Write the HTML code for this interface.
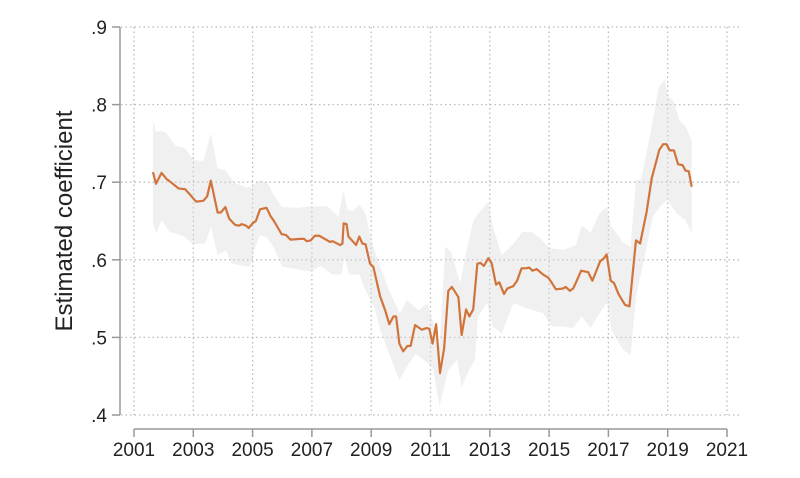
<!DOCTYPE html>
<html><head><meta charset="utf-8"><style>
body{margin:0;background:#fff;}
svg text{font-family:"Liberation Sans",sans-serif;fill:#222;}
</style></head><body>
<svg id="chart" width="800" height="473" viewBox="0 0 800 473" xmlns="http://www.w3.org/2000/svg">
<g id="grid"></g>
<g id="band"></g>
<g id="line"></g>
<g id="axes"></g>
<text transform="translate(72,221) rotate(-90)" text-anchor="middle" font-size="24">Estimated coefficient</text>
</svg>
<script>
const xTicks = [2001,2003,2005,2007,2009,2011,2013,2015,2017,2019,2021];
const yTicks = [0.4,0.5,0.6,0.7,0.8,0.9];
const yTickLabels = [".4",".5",".6",".7",".8",".9"];
const lineYears = [2001.64,2001.74,2001.93,2002.1,2002.21,2002.5,2002.72,2002.89,2003.09,2003.34,2003.47,2003.59,2003.82,2003.93,2004.08,2004.21,2004.41,2004.55,2004.63,2004.78,2004.87,2005.0,2005.11,2005.25,2005.47,2005.61,2005.72,2005.98,2006.12,2006.28,2006.6,2006.74,2006.82,2006.96,2007.1,2007.25,2007.61,2007.7,2007.95,2008.03,2008.07,2008.17,2008.23,2008.49,2008.6,2008.7,2008.81,2008.96,2009.07,2009.3,2009.47,2009.61,2009.75,2009.84,2009.95,2010.08,2010.22,2010.33,2010.48,2010.7,2010.87,2010.96,2011.07,2011.19,2011.32,2011.46,2011.6,2011.72,2011.94,2012.05,2012.2,2012.31,2012.44,2012.58,2012.69,2012.8,2012.95,2013.06,2013.21,2013.32,2013.48,2013.59,2013.79,2013.92,2014.07,2014.22,2014.33,2014.44,2014.58,2014.8,2014.97,2015.08,2015.23,2015.47,2015.56,2015.7,2015.81,2015.92,2016.08,2016.32,2016.46,2016.72,2016.85,2016.94,2017.08,2017.19,2017.34,2017.56,2017.71,2017.93,2018.07,2018.29,2018.46,2018.72,2018.85,2018.96,2019.07,2019.21,2019.35,2019.5,2019.6,2019.71,2019.81];
const lineValues = [.713,.698,.712,.704,.701,.692,.691,.684,.675,.676,.682,.702,.661,.661,.668,.653,.645,.644,.646,.644,.641,.647,.650,.665,.667,.656,.650,.633,.632,.626,.627,.627,.624,.625,.631,.631,.623,.624,.619,.621,.647,.646,.630,.619,.630,.621,.620,.595,.591,.553,.535,.517,.527,.527,.492,.482,.489,.489,.516,.510,.512,.511,.492,.517,.454,.486,.560,.565,.552,.503,.536,.527,.536,.595,.596,.592,.602,.596,.568,.571,.556,.563,.566,.573,.589,.589,.590,.586,.588,.581,.577,.571,.562,.563,.565,.560,.563,.572,.586,.584,.573,.598,.602,.607,.573,.570,.556,.542,.540,.625,.621,.662,.705,.742,.749,.749,.741,.741,.723,.722,.715,.714,.694];
const upperYears = [2001.64,2001.75,2001.93,2002.1,2002.4,2002.72,2003.0,2003.34,2003.59,2003.82,2004.08,2004.4,2004.8,2005.0,2005.25,2005.5,2005.7,2006.0,2006.5,2007.0,2007.5,2007.9,2008.07,2008.2,2008.4,2008.6,2008.8,2009.0,2009.3,2009.6,2009.97,2010.2,2010.6,2010.9,2011.1,2011.3,2011.5,2011.7,2012.0,2012.2,2012.45,2012.7,2012.95,2013.1,2013.4,2013.8,2014.1,2014.4,2014.7,2015.0,2015.5,2015.9,2016.1,2016.4,2016.7,2016.95,2017.1,2017.5,2017.75,2017.93,2018.1,2018.4,2018.7,2018.9,2019.0,2019.2,2019.4,2019.6,2019.81];
const upperValues = [.778,.765,.766,.763,.747,.744,.729,.727,.763,.718,.715,.699,.693,.695,.703,.700,.684,.668,.667,.669,.669,.656,.690,.664,.663,.671,.660,.626,.591,.561,.531,.548,.535,.544,.518,.488,.617,.610,.570,.609,.651,.664,.675,.643,.606,.621,.636,.636,.628,.615,.613,.619,.644,.635,.660,.668,.643,.622,.617,.703,.703,.759,.823,.832,.812,.804,.780,.772,.754];
const lowerYears = [2001.64,2001.75,2001.93,2002.2,2002.7,2003.0,2003.4,2003.6,2003.82,2004.1,2004.3,2004.7,2004.9,2005.1,2005.25,2005.5,2005.7,2006.0,2006.5,2006.95,2007.3,2007.7,2008.0,2008.1,2008.25,2008.6,2008.8,2009.1,2009.3,2009.6,2009.95,2010.2,2010.5,2010.9,2011.1,2011.3,2011.6,2011.9,2012.05,2012.3,2012.5,2012.6,2012.9,2013.1,2013.4,2013.8,2014.3,2014.8,2015.1,2015.5,2015.8,2016.1,2016.4,2016.8,2016.95,2017.1,2017.5,2017.75,2017.93,2018.2,2018.5,2018.8,2019.0,2019.3,2019.6,2019.81];
const lowerValues = [.647,.634,.651,.636,.630,.620,.621,.643,.606,.612,.595,.592,.591,.617,.632,.628,.617,.591,.588,.585,.592,.581,.581,.604,.581,.581,.561,.540,.510,.479,.445,.462,.479,.467,.458,.411,.458,.471,.436,.458,.471,.527,.544,.514,.505,.544,.537,.531,.514,.514,.512,.527,.512,.537,.544,.510,.484,.477,.552,.600,.656,.671,.677,.660,.651,.634];

const X0=134, X1=727, Y0=415, Y1=27;
const xs = yr => X0 + (yr-2001)/(2021-2001)*(X1-X0);
const ys = v => Y0 - (v-0.4)/(0.9-0.4)*(Y0-Y1);
const NS="http://www.w3.org/2000/svg";
function mk(tag, parent){const e=document.createElementNS(NS,tag);parent.appendChild(e);return e;}

const grid=document.getElementById('grid');
yTicks.forEach(v=>{
  const l=mk('line',grid);
  
  
  l.setAttribute('x1',121);l.setAttribute('x2',740);l.setAttribute('y1',ys(v));l.setAttribute('y2',ys(v));
  l.setAttribute('stroke','#bbbbbb');l.setAttribute('stroke-dasharray','1.5 3');l.setAttribute('stroke-width','1.3');
});
xTicks.forEach(t=>{
  const l=mk('line',grid);
  
  
  l.setAttribute('x1',xs(t));l.setAttribute('x2',xs(t));l.setAttribute('y1',Y1);l.setAttribute('y2',Y0);
  l.setAttribute('stroke','#bbbbbb');l.setAttribute('stroke-dasharray','1.5 3');l.setAttribute('stroke-width','1.3');
});

const band=document.getElementById('band');
let pts=upperYears.map((y,i)=>xs(y)+','+ys(upperValues[i]));
for(let i=lowerYears.length-1;i>=0;i--) pts.push(xs(lowerYears[i])+','+ys(lowerValues[i]));
const poly=mk('polygon',band);


poly.setAttribute('points',pts.join(' '));
poly.setAttribute('fill','#d9d9d9');poly.setAttribute('fill-opacity','0.4');

const lg=document.getElementById('line');
const pl=mk('polyline',lg);


pl.setAttribute('points',lineYears.map((y,i)=>xs(y)+','+ys(lineValues[i])).join(' '));
pl.setAttribute('fill','none');pl.setAttribute('stroke','#d0743c');pl.setAttribute('stroke-width','2.2');pl.setAttribute('stroke-linejoin','round');

const ax=document.getElementById('axes');
const ya=mk('line',ax);


ya.setAttribute('x1',120);ya.setAttribute('x2',120);ya.setAttribute('y1',Y1);ya.setAttribute('y2',Y0);ya.setAttribute('stroke','#999');ya.setAttribute('stroke-width','1.5');
const xa=mk('line',ax);


xa.setAttribute('x1',X0);xa.setAttribute('x2',X1);xa.setAttribute('y1',429);xa.setAttribute('y2',429);xa.setAttribute('stroke','#999');xa.setAttribute('stroke-width','1.5');
yTicks.forEach((v,i)=>{
  const t=mk('line',ax);
  
  
  t.setAttribute('x1',112);t.setAttribute('x2',120);t.setAttribute('y1',ys(v));t.setAttribute('y2',ys(v));t.setAttribute('stroke','#999');t.setAttribute('stroke-width','1.5');
  const tx=mk('text',ax);
  
  
  tx.setAttribute('x',107);tx.setAttribute('y',ys(v)+7);tx.setAttribute('text-anchor','end');tx.setAttribute('font-size','19');
  tx.textContent=yTickLabels[i];
});
xTicks.forEach(v=>{
  const t=mk('line',ax);
  
  
  t.setAttribute('x1',xs(v));t.setAttribute('x2',xs(v));t.setAttribute('y1',429);t.setAttribute('y2',437);t.setAttribute('stroke','#999');t.setAttribute('stroke-width','1.5');
  const tx=mk('text',ax);
  
  
  tx.setAttribute('x',xs(v));tx.setAttribute('y',456);tx.setAttribute('text-anchor','middle');tx.setAttribute('font-size','19');
  tx.textContent=String(v);
});
</script>
</body></html>
